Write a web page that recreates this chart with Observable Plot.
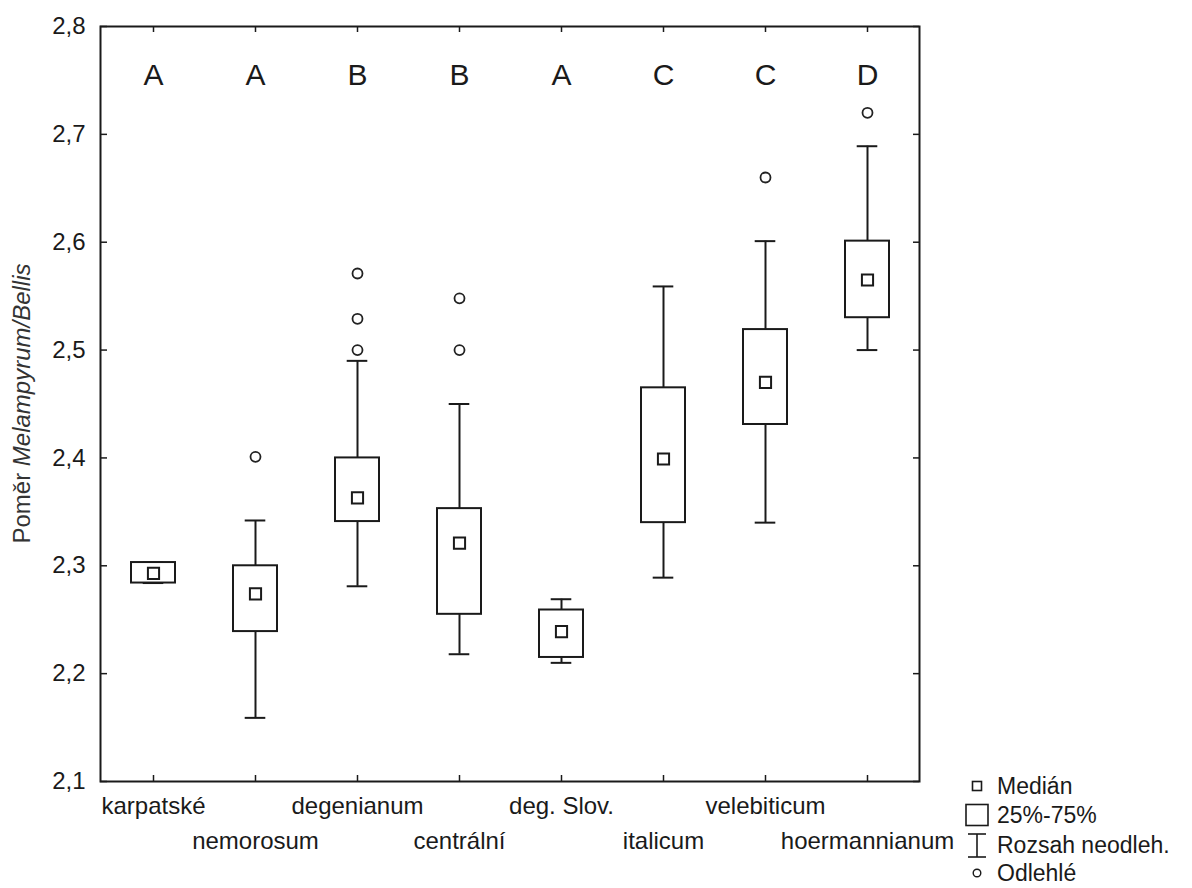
<!DOCTYPE html>
<html><head><meta charset="utf-8">
<script src="https://cdn.jsdelivr.net/npm/d3@7"></script>
<script src="https://cdn.jsdelivr.net/npm/@observablehq/plot@0.6"></script>
<style>
body{margin:0;background:#fff;}
#wrap{position:relative;width:1192px;height:888px;overflow:hidden;font-family:"Liberation Sans",Arial,sans-serif;}
#wrap > svg{position:absolute;left:0;top:0;}
</style></head><body><div id="wrap"></div>
<script>
const categories = ["karpatské","nemorosum","degenianum","centrální","deg. Slov.","italicum","velebiticum","hoermannianum"];
const groupLetters = ["A","A","B","B","A","C","C","D"];
const whiskerLow  = [2.284,2.159,2.281,2.218,2.210,2.289,2.340,2.500];
const q1          = [2.284,2.239,2.341,2.255,2.215,2.340,2.431,2.530];
const median      = [2.293,2.274,2.363,2.321,2.239,2.399,2.470,2.565];
const q3          = [2.303,2.300,2.400,2.353,2.259,2.465,2.519,2.601];
const whiskerHigh = [2.303,2.342,2.490,2.450,2.269,2.559,2.601,2.689];
const outlierGroup = ["nemorosum","degenianum","degenianum","degenianum","centrální","centrální","velebiticum","hoermannianum"];
const outlierValue = [2.401,2.500,2.529,2.571,2.500,2.548,2.660,2.720];
const yTicks = [2.1,2.2,2.3,2.4,2.5,2.6,2.7,2.8];
const yTitle = ["Poměr ", "Melampyrum/Bellis"];
const legendLabels = ["Medián","25%-75%","Rozsah neodleh.","Odlehlé"];

const rows = categories.map((c,i)=>({cat:c, letter:groupLetters[i], lo:whiskerLow[i], q1:q1[i], med:median[i], q3:q3[i], hi:whiskerHigh[i]}));
const outliers = outlierGroup.map((c,i)=>({cat:c, v:outlierValue[i]}));
const rowTop = categories.filter((d,i)=>i%2===0);
const rowBottom = categories.filter((d,i)=>i%2===1);

const W=1192, H=888, mL=100, mR=273, mT=26, mB=107;
const pw = W-mL-mR, ph = H-mT-mB;
const ink = "#1a1a1a";
const fmt = d => d.toFixed(1).replace(".", ",");

const chart = Plot.plot({
  width: W, height: H,
  marginLeft: mL, marginRight: mR, marginTop: mT, marginBottom: mB,
  style: {fontFamily: '"Liberation Sans", Arial, sans-serif', fontSize: "24px", color: ink, background: "white"},
  x: {type: "band", domain: categories, padding: 0},
  y: {domain: [2.1, 2.8]},
  marks: [
    Plot.ruleX(rows, {x: "cat", y1: "lo", y2: "q1", stroke: ink, strokeWidth: 2}),
    Plot.ruleX(rows, {x: "cat", y1: "q3", y2: "hi", stroke: ink, strokeWidth: 2}),
    Plot.tickY(rows, {x: "cat", y: "lo", stroke: ink, strokeWidth: 2, insetLeft: 40.7, insetRight: 40.7}),
    Plot.tickY(rows, {x: "cat", y: "hi", stroke: ink, strokeWidth: 2, insetLeft: 40.7, insetRight: 40.7}),
    Plot.barY(rows, {x: "cat", y1: "q1", y2: "q3", fill: "white", stroke: ink, strokeWidth: 2, insetLeft: 29, insetRight: 29}),
    Plot.dot(rows, {x: "cat", y: "med", symbol: "square", r: 6.3, fill: "white", stroke: ink, strokeWidth: 2}),
    Plot.dot(outliers, {x: "cat", y: "v", r: 5, fill: "white", stroke: "#222", strokeWidth: 1.8}),
    Plot.text(rows, {x: "cat", text: "letter", frameAnchor: "top", dy: 49, lineAnchor: "middle", fontSize: 30, fill: ink}),
    // inward ticks on all four sides
    Plot.ruleY(yTicks, {stroke: ink, strokeWidth: 1.5, insetRight: pw - 7}),
    Plot.ruleY(yTicks, {stroke: ink, strokeWidth: 1.5, insetLeft: pw - 6}),
    Plot.ruleX(categories, {x: d => d, stroke: ink, strokeWidth: 1.5, insetBottom: ph - 6}),
    Plot.ruleX(categories, {x: d => d, stroke: ink, strokeWidth: 1.5, insetTop: ph - 6}),
    Plot.frame({stroke: ink, strokeWidth: 2}),
    Plot.axisY(yTicks, {tickSize: 0, tickPadding: 15, tickFormat: fmt, fontSize: 24, label: null, fill: ink}),
    Plot.axisX(rowTop, {tickSize: 0, tickPadding: 15, fontSize: 24, label: null, fill: ink}),
    Plot.axisX(rowBottom, {tickSize: 0, tickPadding: 50, fontSize: 24, label: null, fill: ink})
  ]
});
document.getElementById("wrap").appendChild(chart);

// overlay: y title and legend
const svg = d3.select("#wrap").append("svg").attr("width", W).attr("height", H)
  .style("pointer-events","none")
  .attr("font-family", '"Liberation Sans", Arial, sans-serif');
const t = svg.append("text")
  .attr("transform", `translate(30,${mT + ph/2}) rotate(-90)`)
  .attr("text-anchor", "middle").attr("font-size", 24).attr("fill", "#333");
t.append("tspan").text(yTitle[0]);
t.append("tspan").attr("font-style", "italic").text(yTitle[1]);

const lg = svg.append("g");
const lx = 977, ly = [786, 815, 845, 873], tx = 997;
lg.selectAll("text").data(legendLabels).join("text")
  .attr("x", tx).attr("y", (d,i)=>ly[i]).attr("dy", "0.35em")
  .attr("font-size", 23).attr("fill", ink).text(d=>d);
lg.append("rect").attr("x", lx-4.5).attr("y", ly[0]-4.5).attr("width", 9).attr("height", 9)
  .attr("fill", "white").attr("stroke", ink).attr("stroke-width", 1.6);
lg.append("rect").attr("x", lx-11).attr("y", ly[1]-10.5).attr("width", 22).attr("height", 21)
  .attr("fill", "white").attr("stroke", ink).attr("stroke-width", 1.6);
lg.append("line").attr("x1", lx).attr("x2", lx).attr("y1", ly[2]-11).attr("y2", ly[2]+12).attr("stroke", ink).attr("stroke-width", 1.6);
lg.append("line").attr("x1", lx-9).attr("x2", lx+9).attr("y1", ly[2]-11).attr("y2", ly[2]-11).attr("stroke", ink).attr("stroke-width", 1.6);
lg.append("line").attr("x1", lx-9).attr("x2", lx+9).attr("y1", ly[2]+12).attr("y2", ly[2]+12).attr("stroke", ink).attr("stroke-width", 1.6);
lg.append("circle").attr("cx", lx).attr("cy", ly[3]).attr("r", 3.8)
  .attr("fill", "white").attr("stroke", ink).attr("stroke-width", 1.4);
</script>
</body></html>
